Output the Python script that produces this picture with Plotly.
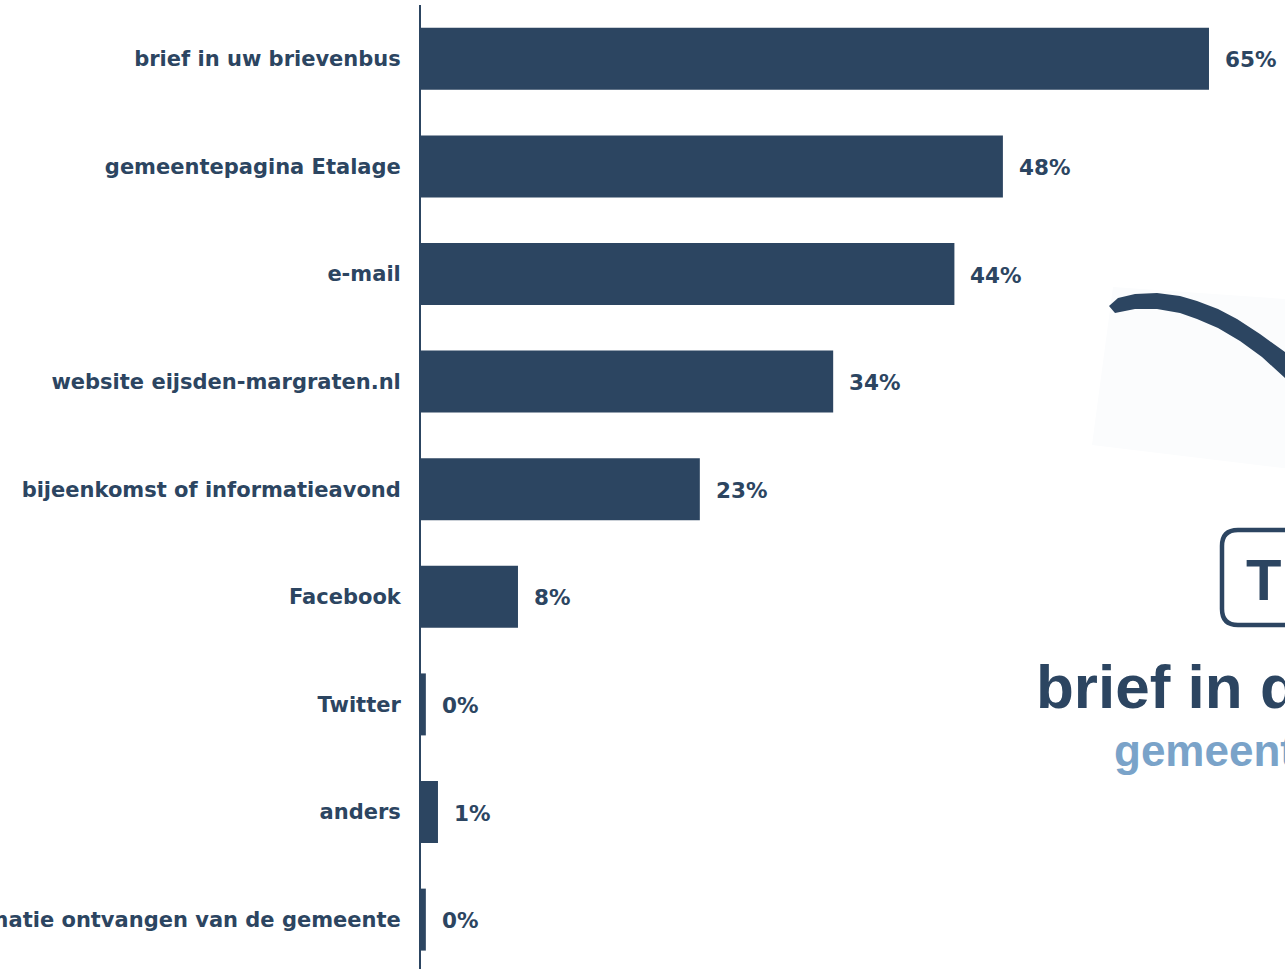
import plotly.graph_objects as go

# Survey: how residents received information from the municipality
categories = [
    "brief in uw brievenbus",
    "gemeentepagina Etalage",
    "e-mail",
    "website eijsden-margraten.nl",
    "bijeenkomst of informatieavond",
    "Facebook",
    "Twitter",
    "anders",
    "geen informatie ontvangen van de gemeente",
]
percentages = [65, 48, 44, 34, 23, 8, 0.4, 1.4, 0.4]

W, H = 1285, 969
NAVY = "#2c4561"
LIGHT_BLUE = "#7aa3c9"
FONT = "Verdana, DejaVu Sans, sans-serif"
HEAVY = "Liberation Sans, Arial, sans-serif"


def px(x):
    return x / W


def py(y):
    return 1 - y / H


def path(points, close=True):
    s = "M " + " L ".join(f"{px(x):.5f},{py(y):.5f}" for x, y in points)
    return s + (" Z" if close else "")


fig = go.Figure(
    go.Bar(
        x=percentages,
        y=categories,
        orientation="h",
        marker=dict(color=NAVY, line=dict(width=0)),
        hoverinfo="skip",
    )
)

# value labels placed just right of each bar end
for cat, val in zip(categories, percentages):
    fig.add_annotation(
        x=val, y=cat, xref="x", yref="y",
        text=f"{round(val)}%",
        showarrow=False, xanchor="left", yanchor="middle", xshift=14, yshift=-1,
        font=dict(family=FONT, size=21.5, color=NAVY, weight="bold"),
    )

# decorative emblem on the right: faint panel, brush stroke, framed letter
shapes = [
    dict(
        type="path", xref="paper", yref="paper", layer="below",
        path=path([(1113, 287), (1300, 300), (1300, 470), (1092, 445)]),
        fillcolor="#fbfcfd", line=dict(width=0),
    ),
    dict(
        type="path", xref="paper", yref="paper",
        path=path([
            (1109, 306), (1118, 298), (1135, 294), (1157, 293), (1180, 296),
            (1197, 301), (1218, 309), (1237, 319), (1260, 334), (1285, 352),
            (1292, 357), (1292, 384), (1285, 378), (1262, 357), (1240, 341),
            (1218, 328), (1197, 319), (1180, 313), (1157, 309), (1135, 309),
            (1115, 313),
        ]),
        fillcolor=NAVY, line=dict(width=0),
    ),
]

# rounded frame
x0, y0, x1, y1, r = 1222, 530, 1320, 625, 16
frame = (
    f"M {px(x0 + r):.5f},{py(y0):.5f} L {px(x1 - r):.5f},{py(y0):.5f} "
    f"Q {px(x1):.5f},{py(y0):.5f} {px(x1):.5f},{py(y0 + r):.5f} "
    f"L {px(x1):.5f},{py(y1 - r):.5f} "
    f"Q {px(x1):.5f},{py(y1):.5f} {px(x1 - r):.5f},{py(y1):.5f} "
    f"L {px(x0 + r):.5f},{py(y1):.5f} "
    f"Q {px(x0):.5f},{py(y1):.5f} {px(x0):.5f},{py(y1 - r):.5f} "
    f"L {px(x0):.5f},{py(y0 + r):.5f} "
    f"Q {px(x0):.5f},{py(y0):.5f} {px(x0 + r):.5f},{py(y0):.5f} Z"
)
shapes.append(dict(type="path", xref="paper", yref="paper", path=frame,
                   line=dict(color=NAVY, width=4.5)))

fig.add_annotation(
    x=px(1244), y=py(579), xref="paper", yref="paper", text="T",
    showarrow=False, xanchor="left", yanchor="middle",
    font=dict(family=HEAVY, size=58, color=NAVY, weight="bold"),
)
fig.add_annotation(
    x=px(1034), y=py(686), xref="paper", yref="paper", text="brief in de brievenbus",
    showarrow=False, xanchor="left", yanchor="middle",
    font=dict(family=HEAVY, size=62, color=NAVY, weight="bold"),
)
fig.add_annotation(
    x=px(1112), y=py(750), xref="paper", yref="paper", text="gemeentepagina",
    showarrow=False, xanchor="left", yanchor="middle",
    font=dict(family=HEAVY, size=44, color=LIGHT_BLUE, weight="bold"),
)

fig.update_layout(
    width=W, height=H,
    margin=dict(l=0, r=0, t=0, b=0),
    paper_bgcolor="white", plot_bgcolor="white",
    showlegend=False,
    bargap=0.424,
    shapes=shapes,
    xaxis=dict(
        domain=[421 / W, 1], range=[0, 71.27],
        showgrid=False, zeroline=False, showticklabels=False, showline=False,
        automargin=False, fixedrange=True,
    ),
    yaxis=dict(
        domain=[0, 1 - 5 / H],
        categoryorder="array", categoryarray=categories,
        range=[8.459, -0.5],
        showgrid=False, zeroline=False,
        showline=True, linecolor=NAVY, linewidth=2,
        ticks="", ticklabelstandoff=14,
        tickfont=dict(family=FONT, size=21, color=NAVY, weight="bold"),
        automargin=False, fixedrange=True,
    ),
)

fig.write_html("out.html")
